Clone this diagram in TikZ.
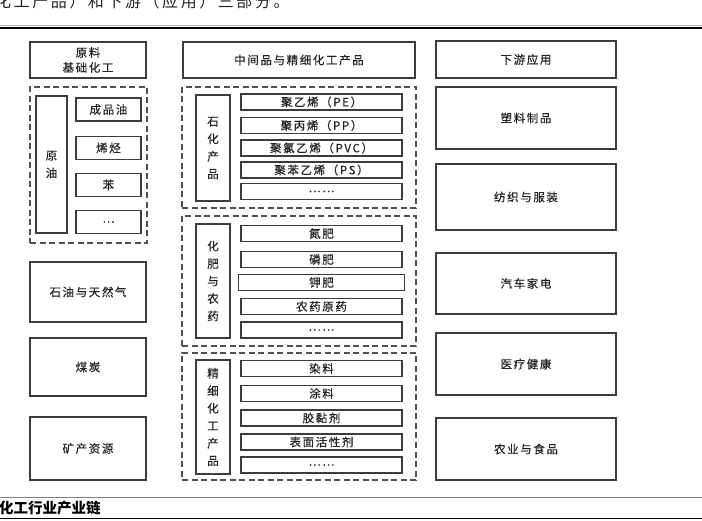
\documentclass[tikz,border=0pt]{standalone}
\usepackage{fontspec}
\setmainfont{Noto Sans CJK SC}[LetterSpace=14,FakeBold=0.4]
\newfontfamily\headfont{Noto Sans CJK SC}[LetterSpace=16]
\newfontfamily\capfont{Noto Sans CJK SC}
\definecolor{boxline}{RGB}{60,60,60}
\definecolor{dashline}{RGB}{80,80,80}
\definecolor{txtgray}{RGB}{35,35,35}

\begin{document}
\begin{tikzpicture}[x=1pt,y=-1pt,
  box/.style={draw=boxline,line width=1.5,inner sep=0pt,align=center,text=txtgray,
    font=\fontsize{11.5}{15}\selectfont},
  item/.style={box,line width=1.3,minimum height=16},
  vlabel/.style={box,line width=1.3,minimum width=34,font=\fontsize{11.5}{17.5}\selectfont},
  grp/.style={draw=dashline,line width=1.3,dash pattern=on 6pt off 3.5pt,inner sep=0pt}]
\useasboundingbox (0,0) rectangle (702,521);
\clip (0,0) rectangle (702,521);
% page text above
\node[anchor=base west,inner sep=0pt,text=txtgray,font=\headfont\fontsize{16}{18}\selectfont] (intro) at (-5,8) {化工产品）和下游（应用）三部分。};
\draw[gray!60,line width=0.8] (0,25.6) -- (702,25.6);
\draw[black,line width=2.4] (0,28.2) -- (702,28.2);
% upstream
\node[box,minimum width=116,minimum height=36] (raw) at (88,60) {原料\\基础化工};
\node[grp,minimum width=117,minimum height=156] (oilgrp) at (88.5,165) {};
\node[vlabel,minimum width=31,minimum height=137] (crude) at (51.5,164.5) {原\\油};
\foreach \t/\y [count=\i] in {成品油/109.5,烯烃/148,苯/185,…/222}
  \node[box,line width=1.3,minimum width=65,minimum height=23] (oil\i) at (108.5,\y) {\t};
\node[box,minimum width=116,minimum height=60] (gas) at (88,292) {石油与天然气};
\node[box,minimum width=116,minimum height=58] (coal) at (88,367) {煤炭};
\node[box,minimum width=116,minimum height=63] (mine) at (88,448.5) {矿产资源};
% intermediate and fine chemicals
\node[box,minimum width=232,minimum height=36] (mid) at (299,60) {中间品与精细化工产品};
\node[grp,minimum width=234,minimum height=121] (petgrp) at (299,147.5) {};
\node[vlabel,minimum height=106] (petlab) at (213,148) {石\\化\\产\\品};
\foreach \t/\y [count=\i] in {聚乙烯（PE）/102,聚丙烯（PP）/125.5,聚氯乙烯（PVC）/148,聚苯乙烯（PS）/170,……/191.5}
  \node[item,minimum width=161] (pet\i) at (321.5,\y) {\t};
\node[grp,minimum width=234,minimum height=130] (fergrp) at (299,281) {};
\node[vlabel,minimum height=114] (ferlab) at (213,281) {化\\肥\\与\\农\\药};
\foreach \t/\y/\w [count=\i] in {氮肥/233.5/161,磷肥/259.5/161,钾肥/282.5/166,农药原药/306.5/161,……/330/161}
  \node[item,minimum width=\w] (fer\i) at (321.5,\y) {\t};
\node[grp,minimum width=234,minimum height=127] (finegrp) at (299,416.5) {};
\node[vlabel,minimum height=114] (finelab) at (213,417) {精\\细\\化\\工\\产\\品};
\foreach \t/\y [count=\i] in {染料/368.5,涂料/393.5,胶黏剂/418,表面活性剂/442,……/465}
  \node[item,minimum width=161] (fine\i) at (321.5,\y) {\t};
% downstream
\node[box,minimum width=180,minimum height=37] (down) at (526,59.5) {下游应用};
\foreach \t/\y/\h [count=\i] in {塑料制品/118/62,纺织与服装/197/66,汽车家电/283.5/61,医疗健康/364/62,农业与食品/449/62}
  \node[box,minimum width=180,minimum height=\h] (use\i) at (526,\y) {\t};
% caption
\draw[gray,line width=1.2] (0,497.5) -- (702,497.5);
\node[anchor=west,inner sep=0pt,font=\capfont\bfseries\fontsize{14.5}{16}\selectfont] (cap) at (-1,508.5) {化工行业产业链};
\draw[black,line width=1.6] (0,518.5) -- (702,518.5);
\end{tikzpicture}
\end{document}
